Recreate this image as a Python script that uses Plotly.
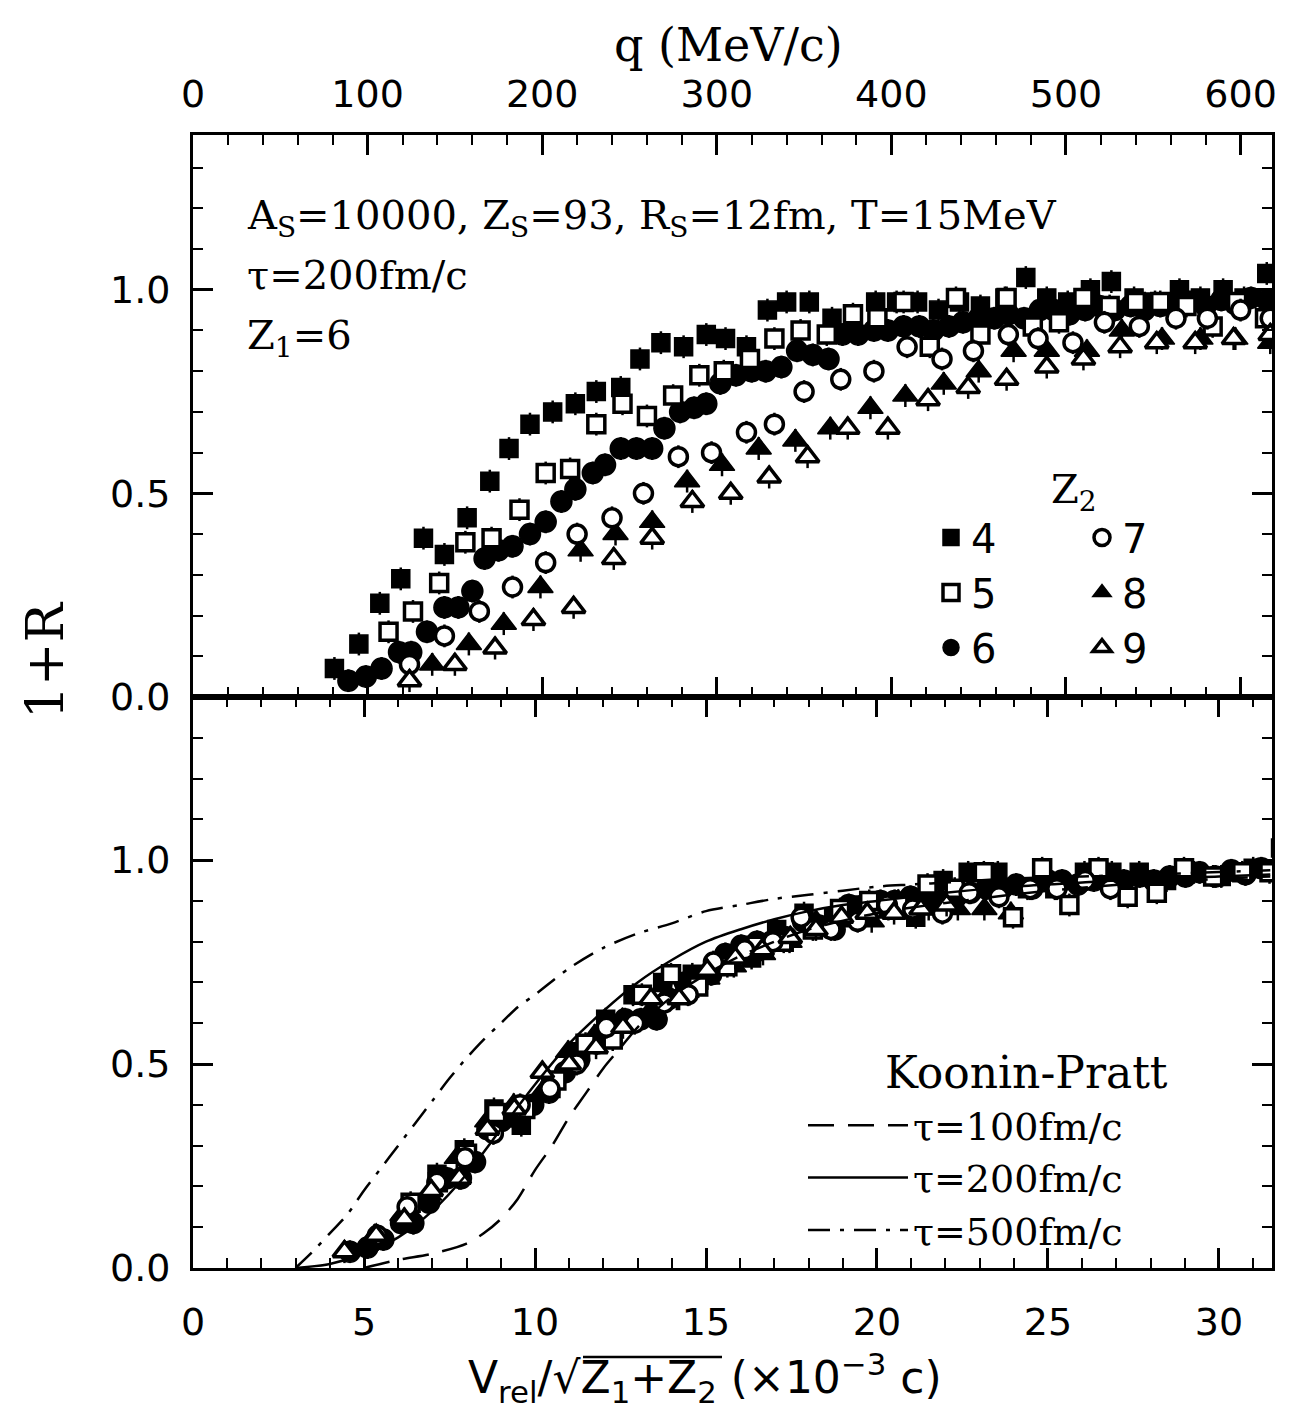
import plotly.graph_objects as go

# ---------------- data ----------------
# Upper panel: 1+R versus q (MeV/c), Z1 = 6, one series per Z2
q_z4 = [81, 95, 107, 119, 132, 144, 157, 170, 181, 193, 206, 219, 231, 245, 256, 268, 281, 294, 305, 317,
        329, 340, 353, 366, 378, 391, 403, 415, 427, 439, 451, 465, 477, 489, 501, 514, 526, 539, 551, 565,
        577, 590, 602, 615]
r_z4 = [0.07, 0.13, 0.23, 0.29, 0.39, 0.35, 0.44, 0.53, 0.61, 0.67, 0.70, 0.72, 0.75, 0.76, 0.83, 0.87, 0.86,
        0.89, 0.88, 0.86, 0.95, 0.97, 0.97, 0.93, 0.93, 0.97, 0.97, 0.97, 0.95, 0.97, 0.96, 0.98, 1.03, 0.98,
        0.97, 1.00, 1.02, 0.98, 0.97, 1.00, 0.98, 1.00, 0.98, 1.04]

q_z5 = [112, 126, 141, 156, 171, 187, 202, 216, 231, 246, 260, 275, 290, 304, 319, 333, 348, 363, 378, 392,
        407, 422, 437, 451, 466, 481, 496, 510, 525, 540, 554, 569, 584, 598, 614]
r_z5 = [0.16, 0.21, 0.28, 0.38, 0.39, 0.46, 0.55, 0.56, 0.67, 0.72, 0.69, 0.74, 0.79, 0.80, 0.83, 0.88, 0.90,
        0.89, 0.94, 0.93, 0.97, 0.86, 0.98, 0.89, 0.98, 0.91, 0.92, 0.98, 0.96, 0.97, 0.97, 0.96, 0.91, 0.97,
        0.93]

q_z6 = [89, 99, 108, 118, 125, 134, 144, 152, 160, 167, 175, 183, 193, 202, 211, 219, 229, 236, 245, 254,
        263, 270, 279, 287, 294, 302, 311, 320, 328, 337, 346, 355, 364, 372, 381, 390, 398, 407, 416, 424,
        433, 441, 450, 459, 467, 476, 485, 493, 502, 511, 519, 528, 537, 545, 554, 563, 571, 580, 589, 597,
        606, 615]
r_z6 = [0.04, 0.05, 0.07, 0.11, 0.11, 0.16, 0.22, 0.22, 0.26, 0.34, 0.36, 0.37, 0.40, 0.43, 0.48, 0.51, 0.55,
        0.57, 0.61, 0.61, 0.61, 0.66, 0.70, 0.71, 0.72, 0.77, 0.79, 0.80, 0.80, 0.81, 0.85, 0.84, 0.83, 0.89,
        0.89, 0.90, 0.90, 0.91, 0.91, 0.90, 0.91, 0.92, 0.93, 0.93, 0.94, 0.93, 0.95, 0.95, 0.94, 0.95, 0.96,
        0.95, 0.96, 0.95, 0.96, 0.96, 0.97, 0.96, 0.975, 0.965, 0.98, 0.975]

q_z7 = [124, 144, 164, 183, 202, 220, 240, 258, 278, 297, 317, 333, 350, 371, 390, 409, 429, 447, 467, 484,
        504, 522, 542, 563, 581, 600, 617]
r_z7 = [0.08, 0.15, 0.21, 0.27, 0.33, 0.40, 0.44, 0.50, 0.59, 0.60, 0.65, 0.67, 0.75, 0.78, 0.80, 0.86, 0.83,
        0.85, 0.89, 0.88, 0.87, 0.92, 0.91, 0.93, 0.93, 0.95, 0.93]

q_z8 = [137, 158, 178, 199, 222, 242, 263, 283, 303, 324, 345, 365, 388, 408, 430, 450, 470, 489, 512, 532,
        555, 577, 597, 617]
r_z8 = [0.08, 0.13, 0.18, 0.27, 0.36, 0.40, 0.43, 0.53, 0.57, 0.61, 0.63, 0.66, 0.71, 0.74, 0.77, 0.80, 0.85,
        0.85, 0.85, 0.90, 0.88, 0.88, 0.88, 0.87]

q_z9 = [124, 150, 173, 195, 218, 241, 263, 286, 308, 330, 352, 375, 398, 421, 444, 466, 489, 510, 531, 552,
        574, 596, 617]
r_z9 = [0.04, 0.08, 0.12, 0.19, 0.22, 0.34, 0.39, 0.48, 0.50, 0.54, 0.59, 0.66, 0.66, 0.73, 0.76, 0.78, 0.81,
        0.83, 0.86, 0.87, 0.87, 0.88, 0.89]

z2_values = ["4", "5", "6", "7", "8", "9"]

# Lower panel: the same points against V_rel/sqrt(Z1+Z2) (1e-3 c);
q_per_vred = {"4": 15.0, "5": 17.6, "6": 19.4, "7": 23.0, "8": 25.8, "9": 28.0}

# Koonin-Pratt calculations (lower panel)
kp100_v = [5.0, 6.0, 7.0, 8.0, 8.5, 9.0, 9.5, 10.0, 10.5, 11.0, 11.5, 12.0, 12.5, 13.0, 14.0, 15.0, 16.0,
           17.0, 18.0, 20.0, 22.0, 25.0, 28.0, 31.5]
kp100_r = [0.0, 0.02, 0.035, 0.06, 0.085, 0.12, 0.17, 0.24, 0.30, 0.37, 0.43, 0.49, 0.54, 0.59, 0.665, 0.72,
           0.765, 0.80, 0.83, 0.87, 0.895, 0.925, 0.945, 0.96]
kp200_v = [3.0, 4.0, 5.0, 6.0, 7.0, 8.0, 9.0, 10.0, 11.0, 12.0, 13.0, 14.0, 15.0, 16.0, 17.0, 18.0, 19.0,
           20.0, 22.0, 24.0, 26.0, 28.0, 30.0, 31.5]
kp200_r = [0.0, 0.01, 0.035, 0.075, 0.14, 0.23, 0.34, 0.45, 0.55, 0.63, 0.70, 0.755, 0.80, 0.83, 0.855,
           0.875, 0.89, 0.90, 0.92, 0.935, 0.945, 0.955, 0.96, 0.965]
kp500_v = [3.0, 3.5, 4.0, 4.5, 5.0, 5.5, 6.0, 6.5, 7.0, 7.5, 8.0, 8.5, 9.0, 9.5, 10.0, 11.0, 12.0, 13.0,
           14.0, 15.0, 16.0, 17.0, 18.0, 19.0, 20.0, 21.0, 22.0, 24.0, 26.0, 28.0, 31.5]
kp500_r = [0.0, 0.04, 0.085, 0.13, 0.19, 0.245, 0.30, 0.355, 0.41, 0.465, 0.515, 0.56, 0.60, 0.64, 0.67,
           0.735, 0.785, 0.82, 0.845, 0.875, 0.89, 0.905, 0.915, 0.925, 0.935, 0.94, 0.945, 0.955, 0.96,
           0.965, 0.975]
kp_labels = ["\u03c4=100fm/c", "\u03c4=200fm/c", "\u03c4=500fm/c"]

# ---------------- styles ----------------
data_by_z2 = {"4": (q_z4, r_z4), "5": (q_z5, r_z5), "6": (q_z6, r_z6),
              "7": (q_z7, r_z7), "8": (q_z8, r_z8), "9": (q_z9, r_z9)}
marker_style = {
    "4": dict(symbol="square", color="black", size=18, line=dict(color="black", width=1.5)),
    "5": dict(symbol="square", color="white", size=17, line=dict(color="black", width=3.5)),
    "6": dict(symbol="circle", color="black", size=21, line=dict(color="black", width=1.5)),
    "7": dict(symbol="circle", color="white", size=18, line=dict(color="black", width=3.5)),
    "8": dict(symbol="triangle-up", color="black", size=22, line=dict(color="black", width=1.5)),
    "9": dict(symbol="triangle-up", color="white", size=20, line=dict(color="black", width=3.5)),
}
legend_of = {"4": ("legend", 1), "5": ("legend", 2), "6": ("legend", 3),
             "7": ("legend2", 1), "8": ("legend2", 2), "9": ("legend2", 3)}
draw_order = ["6", "4", "8", "5", "7", "9"]
err = dict(type="constant", value=0.028, thickness=2.5, width=0, color="black")

fig = go.Figure()
for z in draw_order:
    qs, rs = data_by_z2[z]
    lg, rank = legend_of[z]
    fig.add_trace(go.Scatter(x=qs, y=rs, mode="markers", name=z, marker=marker_style[z],
                             error_y=err, xaxis="x2", yaxis="y2", legend=lg, legendrank=rank,
                             showlegend=True, cliponaxis=True))
for z in draw_order:
    qs, rs = data_by_z2[z]
    vs = [q / q_per_vred[z] for q in qs]
    fig.add_trace(go.Scatter(x=vs, y=rs, mode="markers", name=z, marker=marker_style[z],
                             error_y=err, xaxis="x", yaxis="y", showlegend=False, cliponaxis=True))

for lbl, xs, ys, dash in [(kp_labels[0], kp100_v, kp100_r, "26px,14px"),
                          (kp_labels[1], kp200_v, kp200_r, "solid"),
                          (kp_labels[2], kp500_v, kp500_r, "22px,10px,4px,10px")]:
    fig.add_trace(go.Scatter(x=xs, y=ys, mode="lines", name=lbl, xaxis="x", yaxis="y",
                             line=dict(color="black", width=2.5, dash=dash, shape="spline", smoothing=0.8),
                             legend="legend3"))

L, R, T, B = 193, 17, 135, 156
W, H = 1289, 1424
PW, PH = W - L - R, H - T - B


def px(xp):
    return (xp - L) / PW


def py(yp):
    return (H - B - yp) / PH


axis_common = dict(ticks="inside", ticklen=20, tickwidth=2.5, tickcolor="black",
                   showline=True, linewidth=3, linecolor="black", mirror="ticks",
                   showgrid=False, zeroline=False,
                   tickfont=dict(family="DejaVu Sans", size=38, color="black"))

fig.update_layout(
    width=W, height=H,
    margin=dict(l=L, r=R, t=T, b=B),
    paper_bgcolor="white", plot_bgcolor="white",
    font=dict(family="DejaVu Sans", size=38, color="black"),
    xaxis=dict(domain=[0, 1], anchor="y", range=[0, 31.55], tickmode="linear", tick0=0, dtick=5,
               minor=dict(ticks="inside", dtick=1, ticklen=10, tickwidth=2, tickcolor="black"),
               ticklabelstandoff=18, **axis_common),
    yaxis=dict(domain=[0, 0.504], anchor="x", range=[0, 1.4], tickmode="linear", tick0=0, dtick=0.5,
               tickformat=".1f",
               minor=dict(ticks="inside", dtick=0.1, ticklen=10, tickwidth=2, tickcolor="black"),
               ticklabelstandoff=12, **axis_common),
    xaxis2=dict(domain=[0, 1], anchor="y2", side="top", range=[0, 618], tickmode="linear", tick0=0, dtick=100,
                minor=dict(ticks="inside", dtick=20, ticklen=10, tickwidth=2, tickcolor="black"),
                ticklabelstandoff=10, **axis_common),
    yaxis2=dict(domain=[0.504, 1], anchor="x2", range=[0, 1.38], tickmode="linear", tick0=0, dtick=0.5,
                tickformat=".1f",
                minor=dict(ticks="inside", dtick=0.1, ticklen=10, tickwidth=2, tickcolor="black"),
                ticklabelstandoff=12, **axis_common),
    legend=dict(x=px(931), y=py(505), xanchor="left", yanchor="top", bgcolor="rgba(0,0,0,0)",
                font=dict(family="DejaVu Sans", size=40, color="black"), itemsizing="trace",
                tracegroupgap=0),
    legend2=dict(x=px(1082), y=py(505), xanchor="left", yanchor="top", bgcolor="rgba(0,0,0,0)",
                 font=dict(family="DejaVu Sans", size=40, color="black"), itemsizing="trace",
                 tracegroupgap=0),
    legend3=dict(x=px(803), y=py(1094), xanchor="left", yanchor="top", bgcolor="rgba(0,0,0,0)",
                 font=dict(family="DejaVu Serif", size=38, color="black"), itemwidth=100,
                 tracegroupgap=0),
    showlegend=True,
)

serif = "DejaVu Serif"
ann = [
    dict(text="A<sub>S</sub>=10000, Z<sub>S</sub>=93, R<sub>S</sub>=12fm, T=15MeV", x=px(245), y=py(218),
         xanchor="left", yanchor="middle", font=dict(family=serif, size=40)),
    dict(text="\u03c4=200fm/c", x=px(245), y=py(275), xanchor="left", yanchor="middle",
         font=dict(family=serif, size=40)),
    dict(text="Z<sub>1</sub>=6", x=px(245), y=py(338), xanchor="left", yanchor="middle",
         font=dict(family=serif, size=40)),
    dict(text="Z<sub>2</sub>", x=px(1074), y=py(492), xanchor="center", yanchor="middle",
         font=dict(family=serif, size=40)),
    dict(text="Koonin-Pratt", x=px(1026), y=py(1072), xanchor="center", yanchor="middle",
         font=dict(family=serif, size=44)),
    dict(text="q (MeV/c)", x=px(728), y=py(45), xanchor="center", yanchor="middle",
         font=dict(family=serif, size=46)),
    dict(text="1+R", x=px(45), y=py(660), xanchor="center", yanchor="middle", textangle=-90,
         font=dict(family=serif, size=52)),
    dict(text="V<sub>rel</sub>/\u221aZ<sub>1</sub>+Z<sub>2</sub> (\u00d710<sup>\u22123</sup> c)",
         x=px(705), y=py(1378), xanchor="center", yanchor="middle",
         font=dict(family="DejaVu Sans", size=44)),
]
for a in ann:
    a.update(xref="paper", yref="paper", showarrow=False)
    a["font"]["color"] = "black"
fig.update_layout(annotations=ann)

# vinculum of the square-root sign in the x-axis title
fig.add_shape(type="line", xref="paper", yref="paper", x0=px(583), x1=px(722), y0=py(1357), y1=py(1357),
              line=dict(color="black", width=2.5))

fig.write_html("out.html", config={"displayModeBar": False})
